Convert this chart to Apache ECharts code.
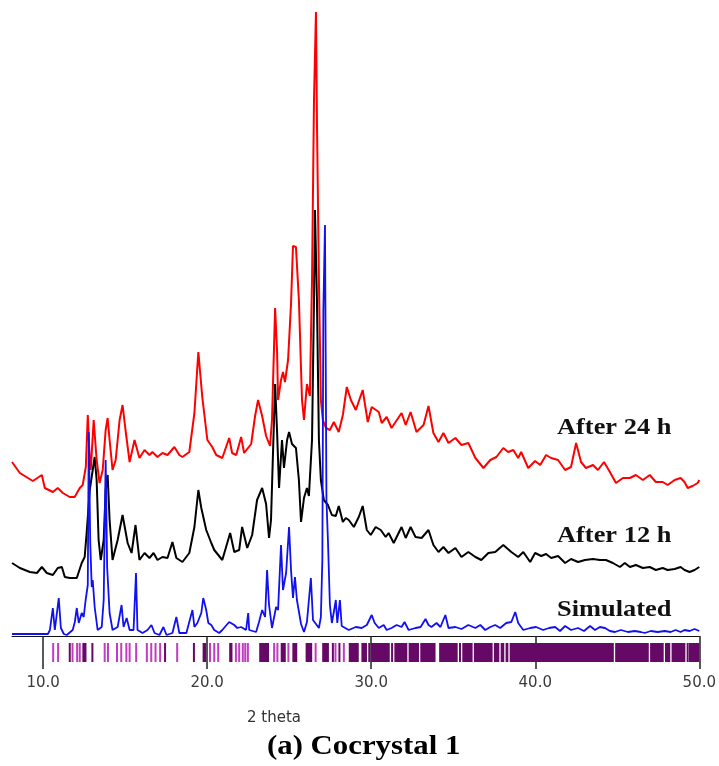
<!DOCTYPE html>
<html>
<head>
<meta charset="utf-8">
<title>PXRD – Cocrystal 1</title>
<script src="https://cdn.jsdelivr.net/npm/echarts@6/dist/echarts.min.js"></script>
<style>
  html, body { margin: 0; padding: 0; background: #fff; }
  #chart { width: 719px; height: 766px; }
</style>
</head>
<body>
<div id="chart"></div>
<script>
// Powder patterns: [2θ (deg), intensity (a.u.)], each relative to its own baseline.
const after24h = [
  [8.10,54],[8.58,43],[9.37,35],[9.92,41],[10.10,28],[10.59,24],[10.89,28],[11.20,23],[11.62,19],[11.92,19],
  [12.23,28],[12.41,31],[12.60,49],[12.72,101],[12.84,56],[12.90,46],[13.08,96],[13.26,56],[13.44,33],[13.63,46],
  [13.81,86],[13.93,98],[14.05,76],[14.23,46],[14.42,56],[14.66,96],[14.84,111],[15.02,86],[15.27,54],[15.57,76],
  [15.87,58],[16.18,66],[16.48,61],[16.66,64],[16.97,59],[17.27,63],[17.58,61],[18.00,69],[18.30,61],[18.49,59],
  [18.91,64],[19.22,103],[19.46,164],[19.70,119],[20.01,76],[20.31,69],[20.55,61],[20.92,58],[21.34,78],[21.52,63],
  [21.77,61],[22.07,79],[22.25,63],[22.68,72],[22.92,100],[23.10,116],[23.35,100],[23.59,80],[23.83,70],[23.95,96],
  [24.14,208],[24.26,164],[24.32,116],[24.50,136],[24.62,144],[24.74,134],[24.93,156],[25.11,212],[25.23,270],[25.41,269],
  [25.59,216],[25.78,116],[25.90,96],[26.08,132],[26.26,120],[26.39,236],[26.51,416],[26.63,504],[26.69,396],[26.81,236],
  [26.93,116],[27.05,96],[27.24,88],[27.48,86],[27.72,94],[28.02,84],[28.27,101],[28.51,129],[28.76,116],[29.06,106],
  [29.48,126],[29.79,94],[30.03,109],[30.46,104],[30.64,93],[30.94,99],[31.24,88],[31.85,103],[32.10,91],[32.40,104],
  [32.76,84],[33.19,91],[33.49,110],[33.79,83],[34.10,74],[34.40,83],[34.71,73],[35.13,78],[35.50,71],[35.92,73],
  [36.35,58],[36.84,48],[37.26,56],[37.63,59],[38.05,68],[38.35,64],[38.66,66],[38.96,58],[39.14,64],[39.57,48],
  [39.99,55],[40.30,51],[40.66,61],[40.97,58],[41.39,56],[41.82,46],[42.18,49],[42.49,73],[42.79,54],[43.09,48],
  [43.52,51],[43.82,46],[44.19,54],[44.55,44],[44.92,33],[45.34,38],[45.77,38],[46.13,41],[46.56,36],[46.98,41],
  [47.35,34],[47.77,34],[48.07,31],[48.50,36],[48.86,38],[49.10,34],[49.29,28],[49.59,30],[49.90,33],[50.00,36]
];

const after12h = [
  [8.10,33],[8.58,28],[9.19,24],[9.62,23],[9.92,29],[10.22,23],[10.59,21],[10.89,28],[11.14,29],[11.32,19],
  [11.62,18],[12.05,18],[12.35,33],[12.53,39],[12.65,63],[12.84,106],[13.02,126],[13.14,139],[13.26,116],[13.38,56],
  [13.51,36],[13.69,56],[13.81,106],[13.93,121],[14.05,76],[14.23,36],[14.54,56],[14.84,81],[15.15,53],[15.39,43],
  [15.63,71],[15.87,36],[16.18,43],[16.48,38],[16.73,43],[16.97,36],[17.27,39],[17.58,38],[17.88,54],[18.12,38],
  [18.49,34],[18.91,43],[19.22,69],[19.46,106],[19.64,88],[19.94,66],[20.25,53],[20.43,46],[20.92,36],[21.40,63],
  [21.65,44],[21.95,46],[22.13,69],[22.44,48],[22.74,61],[23.04,96],[23.35,108],[23.59,92],[23.77,58],[23.89,76],
  [24.02,148],[24.14,212],[24.26,164],[24.38,108],[24.56,156],[24.68,128],[24.87,156],[24.99,164],[25.17,152],[25.41,148],
  [25.59,116],[25.72,74],[25.90,98],[26.08,108],[26.20,100],[26.39,156],[26.51,296],[26.57,386],[26.69,296],[26.81,156],
  [26.93,116],[27.11,96],[27.36,91],[27.60,81],[27.84,80],[28.02,90],[28.27,74],[28.45,78],[28.63,76],[28.94,69],
  [29.24,79],[29.48,90],[29.73,66],[29.97,61],[30.27,69],[30.58,66],[30.88,59],[31.06,63],[31.37,53],[31.85,69],
  [32.10,58],[32.40,69],[32.70,59],[33.07,58],[33.49,66],[33.79,51],[34.10,44],[34.40,49],[34.71,43],[35.13,48],
  [35.50,39],[35.92,44],[36.35,39],[36.71,36],[37.14,43],[37.56,44],[38.05,51],[38.54,44],[38.96,39],[39.27,44],
  [39.69,34],[39.99,43],[40.36,40],[40.66,42],[40.97,38],[41.39,40],[41.82,33],[42.18,37],[42.61,34],[43.03,36],
  [43.52,37],[43.94,36],[44.31,36],[44.73,33],[45.16,29],[45.46,33],[45.77,29],[46.13,31],[46.56,28],[46.98,29],
  [47.35,26],[47.77,28],[48.07,26],[48.50,27],[48.86,29],[49.10,26],[49.41,24],[49.71,26],[50.00,29]
];

const simulated = [
  [8.10,2],[10.29,2],[10.41,6],[10.59,28],[10.71,6],[10.83,8],[10.95,38],[11.08,8],[11.26,2],[11.44,1],
  [11.80,6],[11.93,14],[12.05,28],[12.17,13],[12.35,23],[12.47,19],[12.59,36],[12.72,51],[12.78,204],[12.87,93],
  [12.96,49],[13.02,56],[13.14,29],[13.32,6],[13.57,9],[13.69,36],[13.81,176],[13.90,69],[14.05,23],[14.23,6],
  [14.54,9],[14.78,31],[14.90,9],[15.09,18],[15.27,6],[15.51,6],[15.66,63],[15.75,6],[16.06,3],[16.36,6],
  [16.60,11],[16.79,3],[17.09,1],[17.33,9],[17.52,1],[17.88,3],[18.12,19],[18.30,3],[18.73,3],[19.10,26],
  [19.22,9],[19.40,13],[19.64,23],[19.76,38],[19.94,26],[20.07,13],[20.25,11],[20.43,6],[20.73,3],[20.92,6],
  [21.34,14],[21.65,11],[21.83,8],[22.07,9],[22.37,6],[22.50,23],[22.56,6],[22.98,4],[23.16,14],[23.35,26],
  [23.53,19],[23.65,66],[23.77,31],[23.95,8],[24.20,29],[24.32,26],[24.50,91],[24.62,46],[24.81,63],[24.99,109],
  [25.11,66],[25.23,38],[25.35,59],[25.47,36],[25.72,12],[25.90,4],[26.08,14],[26.32,58],[26.45,16],[26.81,8],
  [26.93,19],[27.02,76],[27.08,326],[27.18,411],[27.27,136],[27.36,96],[27.48,31],[27.60,13],[27.72,24],[27.84,36],
  [27.93,13],[28.09,36],[28.20,10],[28.63,6],[29.06,9],[29.42,8],[29.73,11],[30.03,21],[30.21,13],[30.46,8],
  [30.76,11],[30.94,6],[31.24,8],[31.55,11],[31.85,9],[32.03,14],[32.28,6],[32.70,8],[33.01,9],[33.31,17],
  [33.49,11],[33.67,9],[33.98,13],[34.22,9],[34.52,21],[34.71,8],[35.13,9],[35.50,7],[35.92,11],[36.35,8],
  [36.65,11],[36.95,6],[37.26,9],[37.56,11],[37.86,8],[38.23,13],[38.54,14],[38.78,24],[38.96,13],[39.27,6],
  [39.69,8],[40.05,9],[40.48,6],[40.84,8],[41.21,9],[41.51,5],[41.82,10],[42.18,6],[42.61,8],[42.97,5],
  [43.34,10],[43.64,6],[43.94,9],[44.25,8],[44.55,5],[44.86,4],[45.22,6],[45.65,4],[46.07,5],[46.43,4],
  [46.68,3],[47.04,5],[47.47,4],[47.89,5],[48.25,4],[48.56,6],[48.86,4],[49.10,6],[49.41,5],[49.71,7],[50.00,5]
];

// Calculated reflection positions, [from, to] in 2θ; from === to is a single reflection.
const reflections = [
  [10.61,10.61],[10.91,10.91],[11.56,11.62],[11.79,11.79],[12.07,12.07],[12.23,12.23],[12.39,12.64],[12.94,13.04],
  [13.75,13.75],[13.95,13.95],[14.50,14.50],[14.76,14.76],[15.07,15.07],[15.27,15.27],[15.67,15.67],
  [16.32,16.32],[16.59,16.59],[16.85,16.85],[17.13,17.13],[17.37,17.43],[18.17,18.17],[19.13,19.19],[19.72,19.93],
  [20.17,20.17],[20.43,20.43],[20.67,20.67],[21.34,21.54],[21.75,21.75],[21.95,21.95],[22.17,22.17],[22.32,22.32],
  [22.48,22.48],[23.17,23.77],[24.08,24.08],[24.28,24.28],[24.48,24.79],[24.95,24.95],[25.19,25.49],[26.00,26.40],
  [26.61,26.61],[27.01,27.42],[27.60,27.66],[27.82,27.82],[28.00,28.06],[28.33,28.33],[28.63,29.24],[29.40,29.74],
  [29.82,29.91],[29.99,31.13],[31.21,31.33],[31.41,32.20],[32.28,32.91],[32.99,33.92],[34.14,35.27],[35.35,35.47],
  [35.55,36.18],[36.26,37.40],[37.48,37.81],[37.89,38.11],[38.19,38.36],[38.44,44.79],[44.87,46.92],[47.00,47.83],
  [47.91,48.23],[48.31,49.15],[49.23,49.29],[49.37,50.00]
];

const tickValues = [10, 20, 30, 40, 50];
const tickLabels = ['10.0', '20.0', '30.0', '40.0', '50.0'];
const seriesNames = ['After 24 h', 'After 12 h', 'Simulated'];

// Vertical stacking of the patterns
const offset24h = 120;
const offset12h = 40;
const shift = (pts, d) => pts.map(p => [p[0], p[1] + d]);

const chart = echarts.init(document.getElementById('chart'), null, { renderer: 'canvas' });

const serif = '"Liberation Serif", "Times New Roman", serif';
const sans = '"DejaVu Sans", Verdana, sans-serif';

const labelText = (txt, x, y) => ({
  type: 'text', x: x, y: y, scaleX: 1.1, z: 100,
  style: { text: txt, fill: '#111', font: 'bold 24px ' + serif, textAlign: 'left', textVerticalAlign: 'middle' }
});

chart.setOption({
  animation: false,
  backgroundColor: '#fff',
  grid: { left: 12, right: 17, top: 10, bottom: 130, containLabel: false },
  xAxis: {
    type: 'value', min: 8.1, max: 50,
    splitLine: { show: false },
    axisLine: { show: true, onZero: false, lineStyle: { color: '#111', width: 1 } },
    axisTick: { show: true, length: 33, customValues: tickValues, lineStyle: { color: '#222', width: 1.5 } },
    axisLabel: {
      show: true, margin: 40, customValues: tickValues,
      formatter: v => tickLabels[tickValues.indexOf(v)] || '',
      color: '#3a3a3a', fontFamily: sans, fontSize: 15
    }
  },
  yAxis: { type: 'value', min: 0, max: 626, show: false },
  series: [
    {
      name: seriesNames[1], type: 'line', data: shift(after12h, offset12h), z: 2,
      showSymbol: false, lineStyle: { color: '#000', width: 2 }
    },
    {
      name: seriesNames[0], type: 'line', data: shift(after24h, offset24h), z: 3,
      showSymbol: false, lineStyle: { color: '#f00', width: 2 }
    },
    {
      name: seriesNames[2], type: 'line', data: simulated, z: 4,
      showSymbol: false, lineStyle: { color: '#1010f0', width: 1.8 }
    },
    {
      name: 'reflections', type: 'custom', data: reflections, z: 1,
      encode: { x: [0, 1] },
      renderItem: (params, api) => {
        const a = api.coord([api.value(0), 0]);
        const b = api.coord([api.value(1), 0]);
        const single = api.value(1) - api.value(0) < 0.01;
        const w = single ? 2 : Math.max(b[0] - a[0], 2);
        const x = single ? a[0] - 1 : a[0];
        return {
          type: 'rect',
          shape: { x: x, y: a[1] + 7, width: w, height: 19 },
          style: { fill: single ? '#c23cc2' : '#660866' }
        };
      }
    }
  ],
  graphic: [
    labelText(seriesNames[0], 557, 428),
    labelText(seriesNames[1], 557, 536),
    labelText(seriesNames[2], 557, 610),
    {
      type: 'text', x: 274, y: 718,
      style: { text: '2 theta', fill: '#333', font: '15px ' + sans, textAlign: 'center', textVerticalAlign: 'middle' }
    },
    {
      type: 'text', x: 267, y: 747, scaleX: 1.1,
      style: { text: '(a) Cocrystal 1', fill: '#000', font: 'bold 28px ' + serif, textAlign: 'left', textVerticalAlign: 'middle' }
    }
  ]
});
</script>
</body>
</html>
